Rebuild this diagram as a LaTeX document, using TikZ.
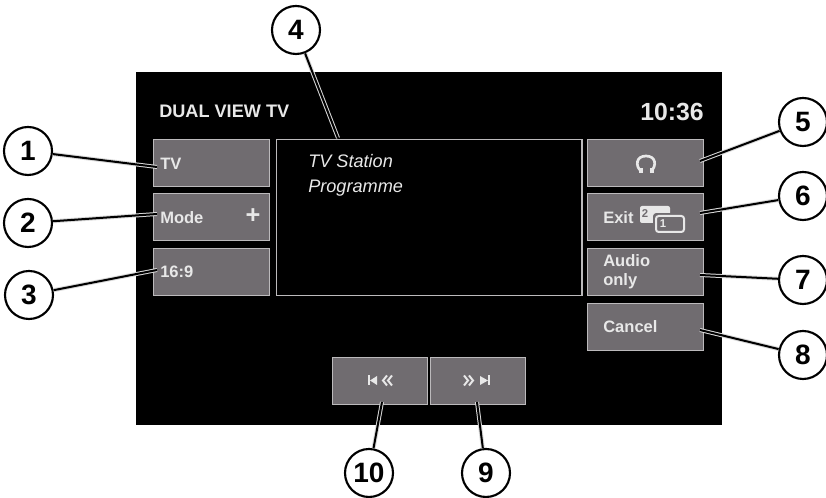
\documentclass[tikz,border=0pt]{standalone}
\usepackage{fontspec}
\setmainfont{Liberation Sans}
\definecolor{btn}{RGB}{112,108,112}
\definecolor{edge}{RGB}{188,186,188}
\definecolor{txt}{RGB}{232,232,232}
\begin{document}
\begin{tikzpicture}[x=0.75pt,y=-0.75pt,
  btnbox/.style={fill=btn,draw=edge,line width=1.1pt,anchor=north west,inner sep=0pt},
  btnlabel/.style={text=txt,font=\fontsize{12.4}{14}\selectfont\bfseries,anchor=west,inner sep=0pt,align=left},
  num/.style={circle,draw=black,line width=1.6pt,fill=white,minimum size=36pt,inner sep=0pt,font=\fontsize{21}{22}\selectfont\bfseries},
  lead/.style={line width=1.5pt,draw=black,preaction={draw=white!85!black,line width=3pt}},
  icon/.style={draw=txt,line width=1.5pt},
  iconfill/.style={fill=txt,draw=none}]
\useasboundingbox (0,0) rectangle (826,498);
\fill[white] (0,0) rectangle (826,498);
\fill[black] (136,72) rectangle (722,425);
\node[text=txt,font=\fontsize{13.6}{15}\selectfont\bfseries,anchor=west,inner sep=0pt] (title) at (159,111) {DUAL VIEW TV};
\node[text=txt,font=\fontsize{18.6}{20}\selectfont\bfseries,anchor=east,inner sep=0pt] (clock) at (704,112) {10:36};
% left column
\node[btnbox,minimum width=87pt,minimum height=35pt] (tv) at (153,139) {};
\node[btnbox,minimum width=87pt,minimum height=35pt] (mode) at (153,193) {};
\node[btnbox,minimum width=87pt,minimum height=35pt] (ratio) at (153,248) {};
\node[btnlabel] (tvl) at (160,164) {TV};
\node[btnlabel] (model) at (160,218) {Mode};
\node[text=txt,font=\fontsize{19}{20}\selectfont\bfseries,inner sep=0pt] (plus) at (253,216) {+};
\node[btnlabel] (ratiol) at (160,272) {16:9};
% centre
\node[draw=edge,line width=1pt,fill=black,anchor=north west,minimum width=229pt,minimum height=117pt,inner sep=0pt] (view) at (276,139) {};
\node[text=txt,font=\fontsize{13.6}{15}\selectfont\itshape,anchor=west,inner sep=0pt] (st) at (308,161) {TV Station};
\node[text=txt,font=\fontsize{13.6}{15}\selectfont\itshape,anchor=west,inner sep=0pt] (pr) at (308,188) {Programme};
% right column
\node[btnbox,minimum width=87pt,minimum height=35pt] (phones) at (587,139) {};
\node[btnbox,minimum width=87pt,minimum height=35pt] (exit) at (587,193) {};
\node[btnbox,minimum width=87pt,minimum height=35pt] (audio) at (587,248) {};
\node[btnbox,minimum width=87pt,minimum height=35pt] (cancel) at (587,303) {};
\node[btnlabel] (exitl) at (603,218) {Exit};
\node[btnlabel,font=\fontsize{12.4}{14.2}\selectfont\bfseries] (audiol) at (603,271.5) {Audio\\only};
\node[btnlabel] (cancell) at (603,327) {Cancel};
% headphone icon
\draw[icon,line width=2pt] (641,171) .. controls (635,166) and (636,156) .. (646,156) .. controls (656,156) and (657,166) .. (651,171);
\fill[txt] (638.5,168) rectangle (642.5,173.5);
\fill[txt] (649.5,168) rectangle (653.5,173.5);
% exit icon
\fill[txt,rounded corners=1.5pt] (640,206) rectangle (670,223);
\draw[btn,line width=1.2pt,fill=btn,rounded corners=1.5pt] (654,214) rectangle (686,234);
\draw[icon,rounded corners=2pt] (656,216) rectangle (684,232);
\node[text=btn,font=\fontsize{8.5}{9}\selectfont\bfseries,inner sep=0pt] (two) at (645,214) {2};
\node[text=txt,font=\fontsize{8.5}{9}\selectfont\bfseries,inner sep=0pt] (one) at (663,224) {1};
% bottom
\node[btnbox,minimum width=71pt,minimum height=35pt] (prev) at (332,357) {};
\node[btnbox,minimum width=71pt,minimum height=35pt] (next) at (430,357) {};
\fill[txt] (368,375.5) rectangle (370,385.5);
\fill[txt] (370,380.5) -- (377,376) -- (377,385) -- cycle;
\draw[icon] (387,375.5) -- (383,380.5) -- (387,385.5) (392,375.5) -- (388,380.5) -- (392,385.5);
\draw[icon] (464,375.5) -- (468,380.5) -- (464,385.5) (469,375.5) -- (473,380.5) -- (469,385.5);
\fill[txt] (488,380.5) -- (480,376) -- (480,385) -- cycle;
\fill[txt] (488,375.5) rectangle (490,385.5);
% callouts
\node[num] (n1) at (28,151) {1};
\node[num] (n2) at (28,223) {2};
\node[num] (n3) at (29,295) {3};
\node[num] (n4) at (296,30) {4};
\node[num] (n5) at (803,122) {5};
\node[num] (n6) at (803,196) {6};
\node[num] (n7) at (803,280) {7};
\node[num] (n8) at (803,355) {8};
\node[num] (n9) at (486,473) {9};
\node[num] (n10) at (369,473) {10};
\coordinate (e1) at (157,167);
\coordinate (e2) at (157,214);
\coordinate (e3) at (157,270);
\coordinate (e4) at (338,138);
\coordinate (e5) at (700,161);
\coordinate (e6) at (700,213);
\coordinate (e7) at (700,275);
\coordinate (e8) at (700,330);
\coordinate (e9) at (477,402);
\coordinate (e10) at (382,402);
\foreach \i in {1,...,10} \draw[lead] (n\i) -- (e\i);
\end{tikzpicture}
\end{document}
